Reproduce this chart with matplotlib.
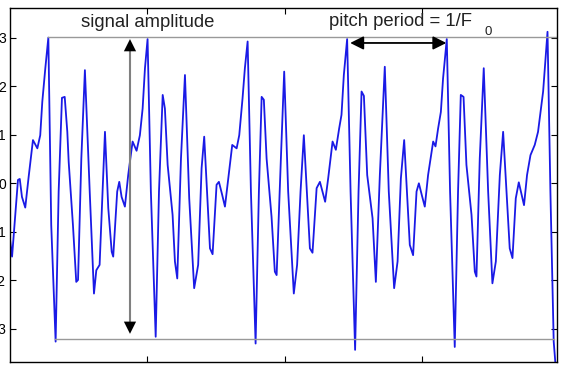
import matplotlib
matplotlib.use("Agg")
import matplotlib.pyplot as plt

plt.rcParams["font.family"] = ["Liberation Sans", "DejaVu Sans"]

# time in ms
t_ms = [0.00, 0.15, 0.58, 0.71, 0.87, 1.11, 1.36, 1.67, 1.99, 2.20,
        2.35, 2.57, 2.79, 3.00, 3.32, 3.54, 3.78, 3.98, 4.17, 4.27,
        4.58, 4.82, 4.95, 5.19, 5.45, 5.80, 6.11, 6.28, 6.52, 6.91,
        7.15, 7.40, 7.51, 7.80, 7.95, 8.12, 8.36, 8.60, 8.92, 9.21,
        9.45, 9.65, 9.82, 10.01, 10.25, 10.60, 10.84, 11.11, 11.27, 11.47,
        11.83, 12.00, 12.17, 12.44, 12.73, 13.04, 13.40, 13.69, 13.94, 14.13,
        14.55, 14.74, 15.03, 15.20, 15.44, 15.64, 15.88, 16.17, 16.49, 16.68,
        16.92, 17.09, 17.29, 17.53, 17.87, 18.11, 18.31, 18.47, 18.67, 19.03,
        19.27, 19.40, 19.71, 19.95, 20.24, 20.65, 20.89, 21.14, 21.38, 21.82,
        22.01, 22.31, 22.55, 22.93, 23.15, 23.47, 23.71, 23.95, 24.12, 24.29,
        24.53, 24.78, 25.11, 25.36, 25.58, 25.75, 25.99, 26.38, 26.62, 26.91,
        27.27, 27.56, 27.95, 28.20, 28.44, 28.68, 29.09, 29.33, 29.58, 29.75,
        29.96, 30.18, 30.42, 30.79, 30.96, 31.15, 31.35, 31.51, 31.78, 32.02,
        32.36, 32.60, 32.80, 33.00, 33.21, 33.58, 33.82, 33.94, 34.18, 34.47,
        34.79, 35.10, 35.35, 35.64, 35.88, 36.36, 36.56, 36.80, 37.02, 37.40,
        37.62, 37.87, 38.18, 38.42, 38.79, 39.11, 39.32, 39.56, 39.71]

signal = [-1.15, -1.51, 0.07, 0.09, -0.28, -0.50, 0.14, 0.89, 0.72, 0.99,
          1.68, 2.37, 3.00, -0.86, -3.26, -0.17, 1.76, 1.78, 1.06, 0.44,
          -0.86, -2.03, -1.99, 0.51, 2.33, -0.17, -2.27, -1.79, -1.68, 1.06,
          -0.51, -1.41, -1.51, -0.17, 0.03, -0.28, -0.48, 0.17, 0.86, 0.67,
          0.99, 1.54, 2.37, 2.97, -0.17, -3.16, -0.17, 1.82, 1.54, 0.38,
          -0.65, -1.61, -1.96, 0.51, 2.23, -0.31, -2.16, -1.68, 0.31, 0.96,
          -1.34, -1.46, -0.03, 0.03, -0.24, -0.48, 0.10, 0.79, 0.72, 0.99,
          1.75, 2.37, 2.92, -0.17, -3.30, -0.17, 1.78, 1.72, 0.51, -0.69,
          -1.82, -1.89, 0.51, 2.30, -0.17, -2.27, -1.68, -0.17, 0.99, -1.34,
          -1.43, -0.10, 0.03, -0.38, 0.10, 0.86, 0.69, 1.13, 1.41, 2.23,
          2.97, -0.17, -3.43, -0.17, 1.89, 1.80, 0.17, -0.72, -2.03, 0.17,
          2.40, -0.17, -2.16, -1.61, 0.10, 0.89, -1.27, -1.48, -0.17, 0.00,
          -0.24, -0.48, 0.17, 0.86, 0.76, 1.13, 1.47, 2.16, 2.97, -0.17,
          -3.37, -0.17, 1.82, 1.78, 0.38, -0.65, -1.82, -1.92, 0.51, 2.37,
          -0.17, -2.06, -1.61, 0.17, 1.06, -1.34, -1.54, -0.31, 0.02, -0.45,
          0.17, 0.58, 0.79, 1.06, 1.89, 3.12, -0.17, -3.26, -3.80]

y_ticks = [-3, -2, -1, 0, 1, 2, 3]
x_ticks = [10, 20, 30]

fig = plt.figure(figsize=(5.63, 3.70), dpi=100)
ax = fig.add_axes([10 / 563, 1 - 362 / 370, 547 / 563, 354 / 370])

ax.plot(t_ms, signal, color="#1a1ae6", lw=1.3, solid_joinstyle="round")

# max / min guide lines
ax.plot([2.76, 39.8], [3.02, 3.02], color="0.6", lw=1.0)
ax.plot([3.3, 39.6], [-3.2, -3.2], color="0.6", lw=1.0)

# amplitude arrow: gray shaft, black heads
ax.plot([8.73, 8.73], [2.7, -2.83], color="0.5", lw=1.5)
for y0, y1 in [(2.6, 2.97), (-2.73, -3.1)]:
    ax.annotate("", xy=(8.73, y1), xytext=(8.73, y0),
                arrowprops=dict(arrowstyle="-|>", color="black", lw=0,
                                mutation_scale=22, shrinkA=0, shrinkB=0))

# pitch period arrow
ax.annotate("", xy=(31.75, 2.89), xytext=(24.75, 2.89),
            arrowprops=dict(arrowstyle="<|-|>", color="black", lw=1.3,
                            mutation_scale=20, shrinkA=0, shrinkB=0))

ax.text(10.0, 3.32, "signal amplitude", ha="center", va="center",
        fontsize=13.3, color="#222222")
ax.text(23.2, 3.34, "pitch period = 1/F", ha="left", va="center",
        fontsize=13.3, color="#222222")
ax.text(34.5, 3.12, "0", ha="left", va="center", fontsize=9.5, color="#222222")

ax.set_xlim(0, 39.8)
ax.set_ylim(-3.68, 3.61)
ax.set_xticks(x_ticks)
ax.set_yticks(y_ticks)
ax.tick_params(direction="in", length=4, width=0.8, top=True, right=True,
               labelbottom=False, labelsize=10, pad=3)
for s in ax.spines.values():
    s.set_linewidth(1.0)

fig.savefig("out.png", dpi=100)
